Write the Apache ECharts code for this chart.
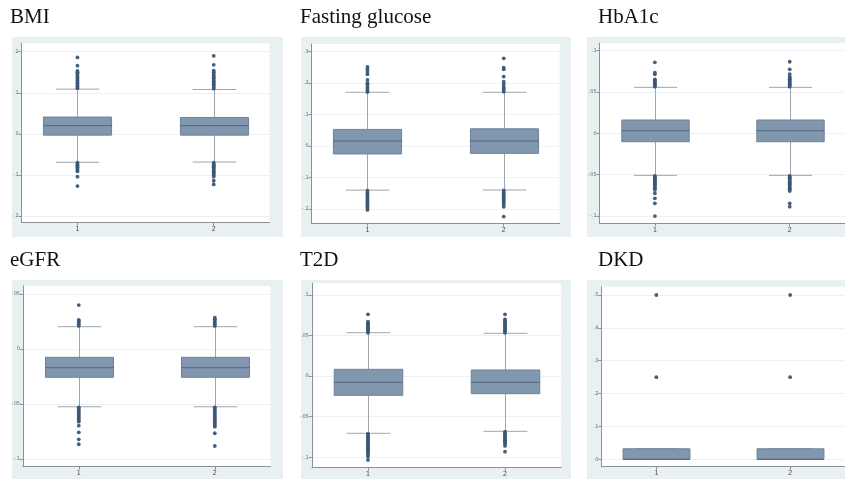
<!DOCTYPE html>
<html>
<head>
<meta charset="utf-8">
<title>Box plots by group</title>
<script src="https://cdn.jsdelivr.net/npm/echarts@6.0.0/dist/echarts.min.js"></script>
<style>
  html, body { margin: 0; padding: 0; background: #ffffff; }
  #chart { width: 845px; height: 483px; }
</style>
</head>
<body>
<div id="chart"></div>
<script>
// ---- Data ---------------------------------------------------------------
// Groups on the x axis
const groups = [1, 2];
const titles = ['BMI', 'Fasting glucose', 'HbA1c', 'eGFR', 'T2D', 'DKD'];

// Box statistics per group: [lower whisker, Q1, median, Q3, upper whisker]
// Outliers are listed value by value for each group.

// BMI
const bmiTicks = [-0.2, -0.1, 0, 0.1, 0.2];
const bmiBox1 = [-0.069, -0.003, 0.020, 0.041, 0.109];
const bmiBox2 = [-0.0685, -0.003, 0.020, 0.040, 0.108];
const bmiOut1 = [0.111, 0.115, 0.118, 0.122, 0.125, 0.129, 0.132, 0.136, 0.139, 0.143, 0.147, 0.150, 0.153, 0.166, 0.186,
                 -0.070, -0.073, -0.076, -0.079, -0.082, -0.085, -0.088, -0.091, -0.104, -0.127];
const bmiOut2 = [0.110, 0.114, 0.117, 0.121, 0.124, 0.128, 0.131, 0.135, 0.138, 0.142, 0.146, 0.150, 0.154, 0.168, 0.190,
                 -0.070, -0.073, -0.076, -0.079, -0.082, -0.085, -0.088, -0.091, -0.094, -0.097, -0.100, -0.104, -0.114, -0.123];

// Fasting glucose
const fgTicks = [-0.2, -0.1, 0, 0.1, 0.2, 0.3];
const fgBox1 = [-0.140, -0.025, 0.016, 0.053, 0.171];
const fgBox2 = [-0.1395, -0.023, 0.016, 0.055, 0.171];
const fgOut1 = [0.252, 0.244, 0.236, 0.228, 0.210, 0.200, 0.195, 0.188, 0.182, 0.176, 0.172,
                -0.142, -0.147, -0.152, -0.157, -0.162, -0.167, -0.172, -0.177, -0.182, -0.187, -0.192, -0.197, -0.203];
const fgOut2 = [0.279, 0.249, 0.244, 0.221, 0.205, 0.197, 0.189, 0.183, 0.178, 0.173,
                -0.141, -0.146, -0.151, -0.156, -0.161, -0.166, -0.171, -0.176, -0.181, -0.187, -0.193, -0.224];

// HbA1c
const hbTicks = [-0.1, -0.05, 0, 0.05, 0.1];
const hbBox1 = [-0.0508, -0.0101, 0.0032, 0.0162, 0.0557];
const hbBox2 = [-0.0508, -0.0101, 0.0032, 0.0162, 0.0557];
const hbOut1 = [0.0565, 0.058, 0.0595, 0.061, 0.0625, 0.064, 0.0654, 0.0714, 0.0734, 0.086,
                -0.0515, -0.053, -0.0545, -0.056, -0.0575, -0.059, -0.0605, -0.062, -0.0635, -0.065, -0.0665, -0.0685,
                -0.0725, -0.0786, -0.0846, -0.100];
const hbOut2 = [0.0565, 0.058, 0.0595, 0.061, 0.0625, 0.064, 0.0655, 0.067, 0.0685, 0.0718, 0.0775, 0.0867,
                -0.0515, -0.053, -0.0545, -0.056, -0.0575, -0.059, -0.0605, -0.062, -0.0635, -0.065, -0.0665, -0.068, -0.0697,
                -0.0846, -0.0887];

// eGFR
const egfrTicks = [-0.1, -0.05, 0, 0.05];
const egfrBox1 = [-0.0525, -0.0257, -0.0170, -0.00755, 0.0203];
const egfrBox2 = [-0.0525, -0.0257, -0.0170, -0.00755, 0.0203];
const egfrOut1 = [0.040, 0.021, 0.0225, 0.024, 0.0255, 0.0264,
                  -0.053, -0.0545, -0.056, -0.0575, -0.059, -0.0605, -0.062, -0.0635, -0.065, -0.0661,
                  -0.0697, -0.0757, -0.0821, -0.0866];
const egfrOut2 = [0.021, 0.0225, 0.024, 0.0255, 0.027, 0.0285,
                  -0.053, -0.0545, -0.056, -0.0575, -0.059, -0.0605, -0.062, -0.0635, -0.065, -0.0665, -0.068, -0.0695, -0.0706,
                  -0.0766, -0.0882];

// T2D
const t2dTicks = [-0.1, -0.05, 0, 0.05, 0.1];
const t2dBox1 = [-0.0704, -0.0236, -0.0076, 0.0084, 0.0535];
const t2dBox2 = [-0.068, -0.0216, -0.0076, 0.0076, 0.0528];
const t2dOut1 = [0.0762, 0.0535, 0.055, 0.0565, 0.058, 0.0595, 0.061, 0.0625, 0.064, 0.0655, 0.0671,
                 -0.071, -0.0725, -0.074, -0.0755, -0.077, -0.0785, -0.080, -0.0815, -0.083, -0.0845, -0.086,
                 -0.0875, -0.089, -0.0905, -0.092, -0.0935, -0.095, -0.0965, -0.0993, -0.1033];
const t2dOut2 = [0.0762, 0.0535, 0.055, 0.0565, 0.058, 0.0595, 0.061, 0.0625, 0.064, 0.0655, 0.067, 0.0685, 0.070,
                 -0.0685, -0.070, -0.0715, -0.073, -0.0745, -0.076, -0.0775, -0.079, -0.0805, -0.082, -0.0835, -0.086, -0.0931];

// DKD
const dkdTicks = [0, 0.1, 0.2, 0.3, 0.4, 0.5];
const dkdBox1 = [0, 0, 0, 0.032, 0.032];
const dkdBox2 = [0, 0, 0, 0.032, 0.032];
const dkdOut1 = [0.5, 0.25];
const dkdOut2 = [0.5, 0.25];

// ---- Layout -------------------------------------------------------------
// bg: panel backdrop [x, y, w, h]; grid: plot region [left, top, width, height]
const panels = [
  { ticks: bmiTicks,  box: [bmiBox1, bmiBox2],   out: [bmiOut1, bmiOut2],   yMin: -0.216,  yMax: 0.2204,
    bg: [12, 37, 271, 200],  grid: [21.6, 43.3, 248, 179.4],   title: [10, 7] },
  { ticks: fgTicks,   box: [fgBox1, fgBox2],     out: [fgOut1, fgOut2],     yMin: -0.2454, yMax: 0.3245,
    bg: [301, 37, 270, 200], grid: [311.6, 44, 248, 179.3],    title: [300, 7] },
  { ticks: hbTicks,   box: [hbBox1, hbBox2],     out: [hbOut1, hbOut2],     yMin: -0.1088, yMax: 0.109,
    bg: [587, 37, 258, 200], grid: [599.6, 43.3, 249.7, 180],  title: [598, 7] },
  { ticks: egfrTicks, box: [egfrBox1, egfrBox2], out: [egfrOut1, egfrOut2], yMin: -0.107,  yMax: 0.0573,
    bg: [12, 280, 271, 199], grid: [23, 286, 247.6, 180.7],    title: [10, 250] },
  { ticks: t2dTicks,  box: [t2dBox1, t2dBox2],   out: [t2dOut1, t2dOut2],   yMin: -0.1128, yMax: 0.1144,
    bg: [301, 280, 270, 199], grid: [311.8, 283.3, 249.4, 184.4], title: [300, 250] },
  { ticks: dkdTicks,  box: [dkdBox1, dkdBox2],   out: [dkdOut1, dkdOut2],   yMin: -0.0225, yMax: 0.5253,
    bg: [587, 280, 258, 199], grid: [601.5, 286.7, 248.5, 180], title: [598, 250] }
];

const X_MIN = 0.59, X_MAX = 2.41;
const BOX_W = 0.5, CAP_W = 0.32;
const BG = '#e8f0f2';
const AXIS = '#8b9197';
const WHISKER = '#9ea6af';
const BOX_FILL = '#8197ae';
const BOX_EDGE = '#6d8299';
const MEDIAN = '#4f6580';
const DOT = '#3b5676';
const GRIDLINE = '#eef1f4';

// Stata-style number labels: .1, -.05, 0
function fmt(v) {
  const r = Math.round(v * 1000) / 1000;
  return String(r).replace(/^(-?)0\./, '$1.');
}

function renderBox(params, api) {
  const x = api.value(0);
  const pt = i => api.coord([x, api.value(i)]);
  const lo = pt(1), q1 = pt(2), md = pt(3), q3 = pt(4), hi = pt(5);
  const bw = api.size([BOX_W, 0])[0];
  const cw = api.size([CAP_W, 0])[0];
  const cx = Math.round(lo[0]) + 0.5;
  const line = (x1, y1, x2, y2, c) => ({
    type: 'line', shape: { x1, y1, x2, y2 }, style: { stroke: c, lineWidth: 1 }
  });
  return {
    type: 'group',
    children: [
      line(cx, lo[1], cx, hi[1], WHISKER),
      line(cx - cw / 2, hi[1], cx + cw / 2, hi[1], WHISKER),
      line(cx - cw / 2, lo[1], cx + cw / 2, lo[1], WHISKER),
      { type: 'rect',
        shape: { x: cx - bw / 2, y: q3[1], width: bw, height: q1[1] - q3[1] },
        style: { fill: BOX_FILL, stroke: BOX_EDGE, lineWidth: 1 } },
      line(cx - bw / 2, md[1], cx + bw / 2, md[1], MEDIAN)
    ]
  };
}

const grid = [], xAxis = [], yAxis = [], series = [], graphics = [];

panels.forEach((p, i) => {
  graphics.push({
    type: 'rect', z: -100,
    shape: { x: p.bg[0], y: p.bg[1], width: p.bg[2], height: p.bg[3] },
    style: { fill: BG }
  });
  graphics.push({
    type: 'text', z: 10,
    x: p.title[0], y: p.title[1],
    style: { text: titles[i], font: '21px "Liberation Serif", "Times New Roman", serif', fill: '#111', verticalAlign: 'top' }
  });

  grid.push({
    left: p.grid[0], top: p.grid[1], width: p.grid[2], height: p.grid[3],
    show: true, backgroundColor: '#ffffff', borderWidth: 0
  });

  xAxis.push({
    type: 'value', gridIndex: i, min: X_MIN, max: X_MAX,
    axisLine: { show: true, onZero: false, lineStyle: { color: AXIS, width: 1 } },
    axisTick: { show: true, customValues: groups, length: 3, lineStyle: { color: AXIS } },
    axisLabel: { show: true, customValues: groups, fontSize: 7, color: '#555', margin: 3, fontFamily: 'DejaVu Sans' },
    splitLine: { show: false }
  });

  yAxis.push({
    type: 'value', gridIndex: i, min: p.yMin, max: p.yMax,
    axisLine: { show: true, onZero: false, lineStyle: { color: AXIS, width: 1 } },
    axisTick: { show: true, customValues: p.ticks, length: 3, lineStyle: { color: AXIS } },
    axisLabel: { show: true, customValues: p.ticks, formatter: fmt, fontSize: 5, color: '#666', margin: 3, fontFamily: 'DejaVu Sans' },
    splitLine: { show: false }
  });

  // Faint horizontal gridlines at the tick values, kept beneath the boxes
  series.push({
    type: 'line', xAxisIndex: i, yAxisIndex: i,
    data: [], z: 0, silent: true,
    markLine: {
      silent: true, symbol: 'none', animation: false, z: 0,
      label: { show: false },
      lineStyle: { color: GRIDLINE, width: 1, type: 'solid' },
      data: p.ticks.map(t => ({ yAxis: t }))
    }
  });

  series.push({
    type: 'custom', xAxisIndex: i, yAxisIndex: i,
    renderItem: renderBox,
    encode: { x: 0, y: [1, 2, 3, 4, 5] },
    data: groups.map((g, k) => [g].concat(p.box[k])),
    z: 2,
    silent: true
  });

  series.push({
    type: 'scatter', xAxisIndex: i, yAxisIndex: i,
    symbol: 'circle', symbolSize: 3.8,
    itemStyle: { color: DOT, opacity: 0.95 },
    data: groups.flatMap((g, k) => p.out[k].map(v => [g, v])),
    z: 3,
    silent: true
  });
});

const chart = echarts.init(document.getElementById('chart'), null, { renderer: 'canvas' });
chart.setOption({
  animation: false,
  backgroundColor: '#ffffff',
  graphic: { elements: graphics },
  grid, xAxis, yAxis, series
});
</script>
</body>
</html>
